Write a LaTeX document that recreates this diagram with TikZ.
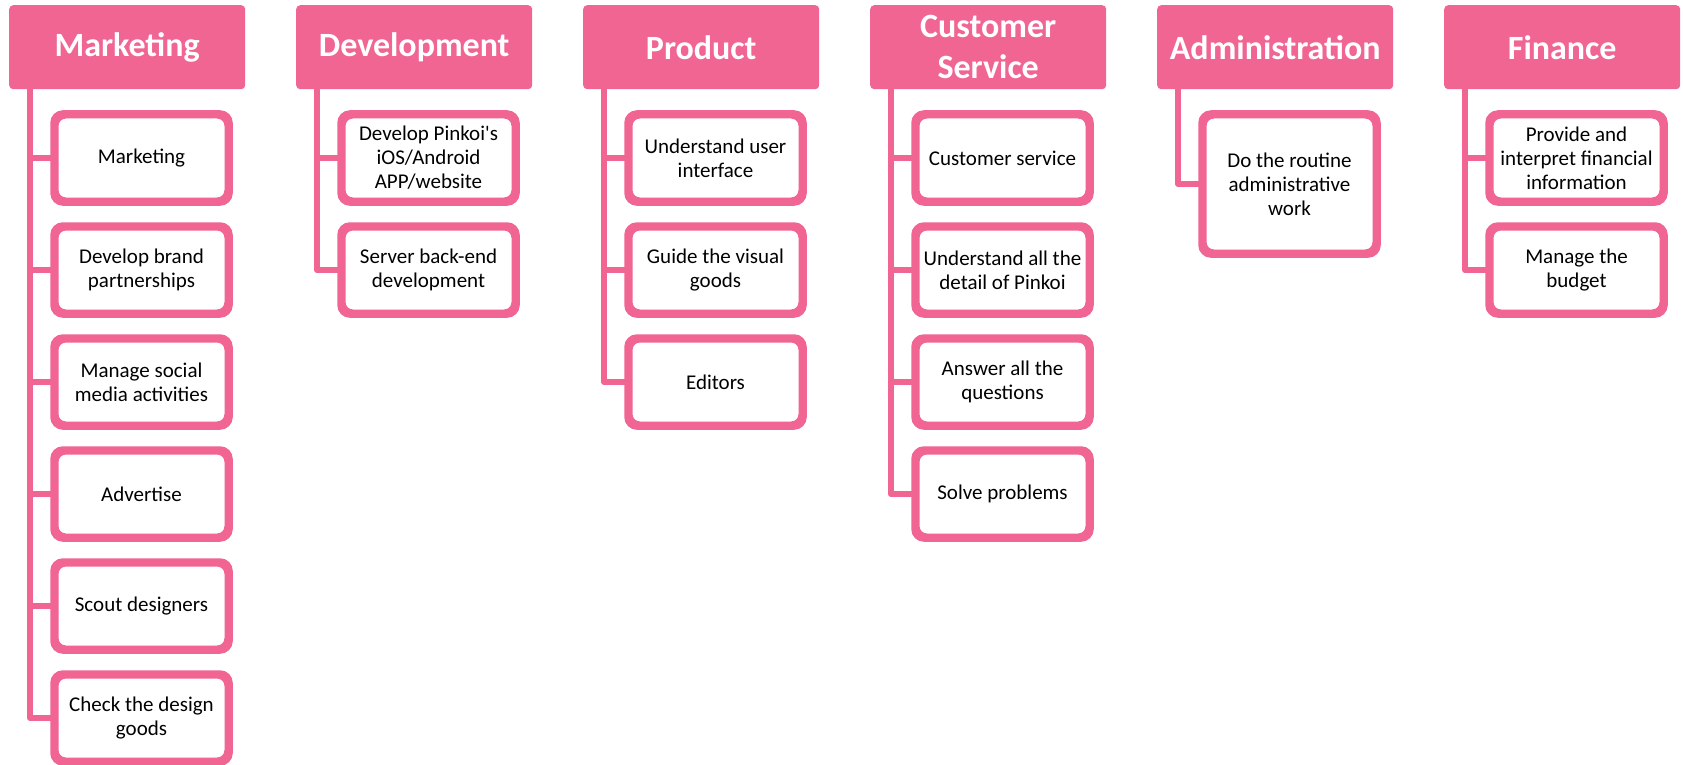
\documentclass[tikz,border=0pt]{standalone}
\usepackage{fontspec}
\setmainfont{Carlito}
\definecolor{pinkc}{RGB}{240,101,146}
\tikzset{
  head/.style={fill=pinkc, rounded corners=4pt, minimum width=236pt, minimum height=84pt,
    text=white, font=\fontsize{34}{41}\bfseries\selectfont, align=center, inner sep=0pt, anchor=north west},
  item/.style={draw=pinkc, line width=5.5pt, rounded corners=10pt, fill=white,
    minimum width=171.5pt, minimum height=84.5pt, align=center, inner sep=0pt,
    font=\fontsize{21}{24}\selectfont, text=black},
  conn/.style={draw=pinkc, line width=6pt, line join=round},
  frame/.style={draw=pinkc, line width=5.5pt, rounded corners=10pt}
}
\begin{document}
\begin{tikzpicture}[x=1pt,y=-1pt]
\useasboundingbox (0,0) rectangle (1683,765);
% headers
\node[head] (hm) at (9,5) {Marketing};
\node[head] (hd) at (296,5) {Development};
\node[head] (hp) at (583,5) {Product};
\node[head] (hc) at (870,5) {Customer\\Service};
\node[head] (ha) at (1157,5) {Administration};
\node[head] (hf) at (1444,5) {Finance};
% Marketing children
\node[item] (m1) at (141.5,158) {Marketing};
\node[item] (m2) at (141.5,270) {Develop brand\\partnerships};
\node[item] (m3) at (141.5,382) {Manage social\\media activities};
\node[item] (m4) at (141.5,494) {Advertise};
\node[item] (m5) at (141.5,606) {Scout designers};
\node[item] (m6) at (141.5,718) {Check the design\\goods};
% Development children
\node[item] (d1) at (428.5,158) {Develop Pinkoi\textquotesingle s\\iOS/Android\\APP/website};
\node[item] (d2) at (428.5,270) {Server back-end\\development};
% Product children
\node[item] (p1) at (715.5,158) {Understand user\\interface};
\node[item] (p2) at (715.5,270) {Guide the visual\\goods};
\node[item] (p3) at (715.5,382) {Editors};
% Customer service children
\node[item] (c1) at (1002.5,158) {Customer service};
\node[item] (c2) at (1002.5,270) {Understand all the\\detail of Pinkoi};
\node[item] (c3) at (1002.5,382) {Answer all the\\questions};
\node[item] (c4) at (1002.5,494) {Solve problems};
% Administration child
\node[item, minimum height=136.5pt] (a1) at (1289.5,184) {Do the routine\\administrative\\work};
% Finance children
\node[item] (f1) at (1576.5,158) {Provide and\\interpret financial\\information};
\node[item] (f2) at (1576.5,270) {Manage the\\budget};
% connectors
\foreach \h/\c in {hm/m1,hm/m2,hm/m3,hm/m4,hm/m5,hm/m6,hd/d1,hd/d2,hp/p1,hp/p2,hp/p3,hc/c1,hc/c2,hc/c3,hc/c4,ha/a1,hf/f1,hf/f2}
  \draw[conn] ([xshift=21pt]\h.south west) |- ([xshift=-2pt]\c.west);
% redraw box frames on top of the connector ends
\foreach \c in {m1,m2,m3,m4,m5,m6,d1,d2,p1,p2,p3,c1,c2,c3,c4,a1,f1,f2}
  \draw[frame] (\c.north west) rectangle (\c.south east);
\end{tikzpicture}
\end{document}
